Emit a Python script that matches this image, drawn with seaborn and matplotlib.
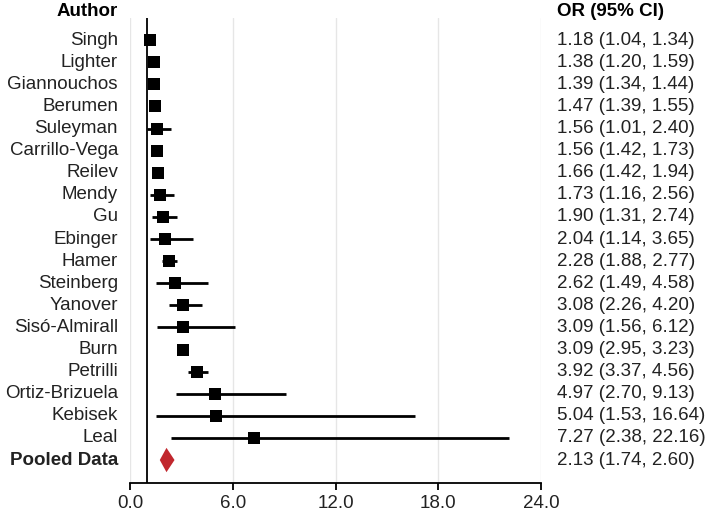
import matplotlib
matplotlib.use("Agg")
import matplotlib.pyplot as plt
import seaborn as sns
import pandas as pd
import numpy as np

sns.set_style("whitegrid")
plt.rcParams['font.family'] = ['Liberation Sans', 'DejaVu Sans']

authors = ["Singh", "Lighter", "Giannouchos", "Berumen", "Suleyman", "Carrillo-Vega",
           "Reilev", "Mendy", "Gu", "Ebinger", "Hamer", "Steinberg", "Yanover",
           "Sisó-Almirall", "Burn", "Petrilli", "Ortiz-Brizuela", "Kebisek", "Leal"]
odds = [1.18, 1.38, 1.39, 1.47, 1.56, 1.56, 1.66, 1.73, 1.90, 2.04, 2.28, 2.62,
        3.08, 3.09, 3.09, 3.92, 4.97, 5.04, 7.27]
ci_low = [1.04, 1.20, 1.34, 1.39, 1.01, 1.42, 1.42, 1.16, 1.31, 1.14, 1.88, 1.49,
          2.26, 1.56, 2.95, 3.37, 2.70, 1.53, 2.38]
ci_high = [1.34, 1.59, 1.44, 1.55, 2.40, 1.73, 1.94, 2.56, 2.74, 3.65, 2.77, 4.58,
           4.20, 6.12, 3.23, 4.56, 9.13, 16.64, 22.16]
pooled = 2.13
pooled_low = 1.74
pooled_high = 2.60
xticks = [0, 6, 12, 18, 24]

df = pd.DataFrame({"author": authors, "or": odds, "lo": ci_low, "hi": ci_high})
df["row"] = np.arange(len(df))
pooled_row = len(df)

fig = plt.figure(figsize=(7.09, 5.14), dpi=100)
ax = fig.add_axes([130/709, 1 - 483/514, 411/709, 465/514])

txt = "#222222"
fs = 13.5

# confidence intervals
ax.hlines(df["row"], df["lo"], df["hi"], color="black", lw=2, zorder=3)
sns.scatterplot(data=df, x="or", y="row", marker="s", s=78, color="black",
                edgecolor="black", linewidth=0, zorder=4, ax=ax, legend=False)

# pooled diamond
ax.fill([pooled_low, pooled, pooled_high, pooled],
        [pooled_row, pooled_row - 0.55, pooled_row, pooled_row + 0.55],
        color="#C1272D", zorder=4, lw=0)

ax.axvline(1, color="black", lw=1.3, zorder=2)

ax.set_xlim(0, 24)
ax.set_ylim(pooled_row + 1.04, -1.0)
ax.set_xticks(xticks)
ax.set_xticklabels([f"{t:.1f}" for t in xticks], fontsize=fs, color=txt)
ax.set_yticks([])
ax.set_xlabel("")
ax.set_ylabel("")
ax.grid(axis="x", color="#e6e6e6", lw=1)
ax.grid(axis="y", visible=False)
for s in ["top", "right", "left"]:
    ax.spines[s].set_visible(False)
ax.spines["bottom"].set_color("black")
ax.spines["bottom"].set_linewidth(1.3)
ax.tick_params(axis="x", bottom=True, length=5, width=1.3, color="black", pad=4)

# labels
lab_x = 118/709
or_x = 557/709

def ypix(r):
    return ax.transData.transform((0, r))[1] / fig.bbox.height

for r, a in enumerate(authors):
    fig.text(lab_x, ypix(r), a, ha="right", va="center", fontsize=fs, color=txt)
    fig.text(or_x, ypix(r), f"{odds[r]:.2f} ({ci_low[r]:.2f}, {ci_high[r]:.2f})",
             ha="left", va="center", fontsize=fs, color=txt)
fig.text(lab_x, ypix(pooled_row), "Pooled Data", ha="right", va="center",
         fontsize=fs, color=txt, fontweight="bold")
fig.text(or_x, ypix(pooled_row), f"{pooled:.2f} ({pooled_low:.2f}, {pooled_high:.2f})",
         ha="left", va="center", fontsize=fs, color=txt)
fig.text(lab_x, 1 - 12/514, "Author", ha="right", va="center", fontsize=fs,
         color="black", fontweight="bold")
fig.text(or_x, 1 - 12/514, "OR (95% CI)", ha="left", va="center", fontsize=fs,
         color="black", fontweight="bold")

fig.savefig("out.png", dpi=100)
